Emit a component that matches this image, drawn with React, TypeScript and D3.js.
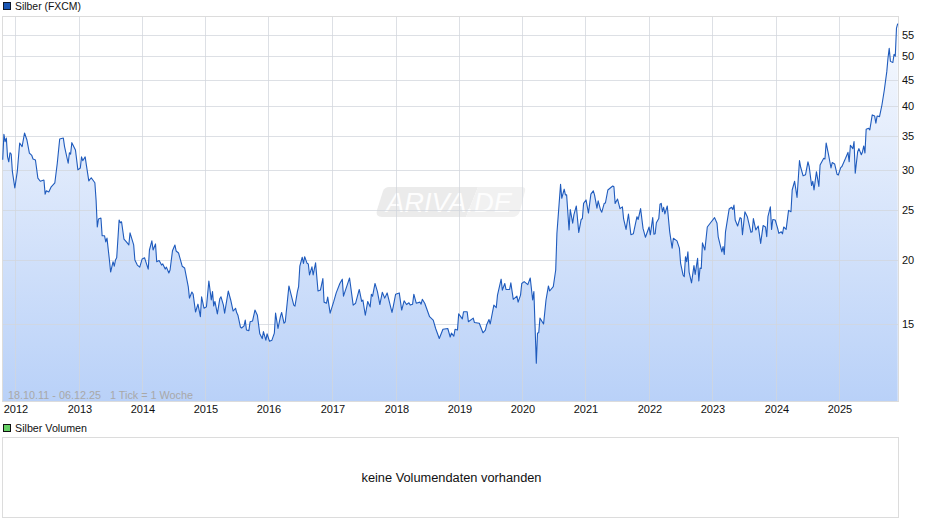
import React from "react";
import * as d3 from "d3";

const title = "Silber (FXCM)";
const volumeTitle = "Silber Volumen";
const volumeNote = "keine Volumendaten vorhanden";
const rangeNote = "18.10.11 - 06.12.25   1 Tick = 1 Woche";
const priceTicks = [15, 20, 25, 30, 35, 40, 45, 50, 55];
const yearTicks = [2012, 2013, 2014, 2015, 2016, 2017, 2018, 2019, 2020, 2021, 2022, 2023, 2024, 2025];
// week (since 18.10.2011) at which each year's tick sits
const yearTickWeeks = [10.6, 63.3, 115.3, 167.3, 219.2, 271.9, 324.7, 376.7, 428.7, 480.7, 533.4, 585.4, 638.1, 690];

// weeks since 18.10.2011 and the price read at that week
const weeks = [0,1,2,3,4,5,6,7,8,10,12,14,16,18,20,22,24,25,27,29,31,34,35,36,38,40,43,45,47,50,51,54,55,56,57,60,62,64,65,66,68,69,71,73,76,77,78,79,81,82,84,85,86,88,89,91,92,93,94,96,97,98,100,102,104,105,108,109,111,113,115,117,120,121,123,124,126,127,129,131,132,134,135,137,138,140,142,143,145,148,150,153,154,156,157,159,161,163,164,166,168,170,172,173,174,175,177,179,180,182,183,186,188,190,192,193,194,196,197,199,200,201,203,204,206,208,210,212,214,215,217,218,220,222,224,225,227,229,230,232,233,236,240,241,243,244,245,247,248,249,251,252,253,255,256,258,260,262,264,265,267,268,270,273,275,278,280,281,285,286,289,291,294,296,297,299,301,303,304,305,307,309,311,313,315,317,321,322,324,327,329,331,333,335,336,338,339,341,344,345,346,348,352,355,357,360,363,367,369,370,372,373,375,376,379,380,383,384,388,389,393,396,398,399,401,402,405,407,408,411,412,414,415,418,419,421,424,425,427,428,430,433,435,437,438,440,441,442,443,446,448,450,451,454,456,457,460,461,463,464,465,467,468,470,471,473,475,477,478,479,481,483,485,487,488,490,491,493,494,496,497,499,503,504,505,507,509,511,512,514,516,518,520,523,524,526,528,530,533,534,536,537,538,539,541,542,543,544,545,546,548,550,552,553,556,558,559,561,562,563,564,565,566,568,570,571,573,574,575,576,577,579,581,584,587,589,590,591,593,594,595,596,599,601,602,603,604,606,608,609,610,612,614,617,618,619,621,623,625,627,629,630,631,633,634,635,637,639,640,642,643,644,646,648,650,651,653,655,657,658,660,662,664,665,667,668,669,671,673,674,677,678,679,681,683,684,686,688,689,691,692,695,697,698,699,701,702,703,705,706,708,709,710,711,712,714,715,717,719,720,721,723,725,727,729,730,731,732,734,735,736,737,738];
const prices = [31.4,35.2,34.05,34.6,31.8,31.1,32.4,32.2,29.75,27.65,29.75,33.85,33.3,35.4,34.3,32.35,32,31.5,31.36,28.9,28.5,28.65,26.9,27.3,27.15,27.8,28.3,30.9,34.45,34.6,33.3,30.9,32.4,32.2,33.9,32.8,30,30.25,31.8,31.26,31.8,30.65,28.55,28.95,28.3,26.2,23.2,24.05,24.15,22.3,22.3,21.7,22.07,20,18.95,19.85,19.45,20,20.2,23.94,23.65,23.75,21.97,21.7,21.4,22.6,21.4,20,19.55,19.37,20.1,20.2,19.2,20.92,21.8,20.92,21.5,19.85,19.95,19.55,19.65,19.2,19.37,18.87,19.12,20.85,21.4,20.83,20.64,19.45,19.3,17.75,16.85,17.32,17.17,15.83,16.4,15.5,16.95,16.1,16.2,18.2,16.71,17.35,16.27,16.6,15.7,16.8,16.95,16.33,15.75,17.4,16.71,15.9,16.1,15.77,15.6,14.8,14.73,14.87,15.27,14.6,14.56,15.15,15.2,15.97,15.6,14.35,14.05,14.5,13.95,14.35,13.88,13.95,14.4,15.75,14.7,15.5,15.8,15.05,15.15,17.8,16.33,16.25,17.35,17.75,19.45,20.25,19.7,20.3,19.7,19.65,18.7,19.4,18.7,19.75,17.4,17.47,18.4,16.55,16.47,16.93,15.75,16.6,17.25,18,18.35,17,18.15,18.45,16.33,16.47,17.52,16.6,16.71,15.6,16.6,16.2,17.15,17,18,17.35,16.37,17.3,16.85,17.25,15.8,16.2,17.15,17.25,15.97,16.65,16.37,16.5,16.33,16.4,17.15,16.47,16.55,16.4,16.76,16.47,15.5,15.27,14.7,14.05,14.65,14.7,14.15,14.4,14.2,14.65,14.6,15.7,15.35,15.85,15.85,15.15,15.4,15.1,15.05,14.42,14.6,14.93,15.3,15,16.33,16.15,17.08,18.35,17.47,18,17.52,17.52,18.05,16.76,17,16.55,17.08,18,18.15,17.9,18.45,16.71,17.35,12.58,14.4,14.42,15.4,15,16.71,17.8,17.4,17.75,19.12,22.55,28.1,26.4,27.5,26.8,26.8,22.89,25.1,23.6,24.5,25.5,22.65,24,24.1,25.8,26.2,24.7,26.9,27.3,26.8,25.25,26.1,25.04,24.8,25.8,25.85,27.4,27.9,27.8,25.8,26.3,25.2,25.4,24.05,22.95,24.6,22.4,22.5,24.3,24,25.2,23.05,22.15,23.2,22.4,24.2,22.45,22.5,23.65,24.1,25.7,25.8,24.85,25.35,24.6,25.5,22.7,21.1,22.05,21.8,21.1,19.7,18.7,18.55,20.3,19.85,20.75,18.95,18.05,19.5,18.75,20.15,18.2,19.3,19.25,21.6,20.92,23.2,23.7,24.2,23.6,22.2,21.7,20.75,21.25,20.5,22.7,25.15,25.35,25.1,25.6,23.94,23.3,24.2,24.1,22.4,24.85,24.3,22.65,22.7,24.1,22.89,23.3,21.55,23.35,23.2,22.2,24.3,25.4,22.95,24,23.94,23.05,22.55,22.7,22.5,23.2,22.95,25,24.85,27.4,28.5,26.5,31.26,30.35,29.2,29.35,31.1,30.45,27.95,28.5,27.4,29.75,27.85,30.65,31.6,31.5,33.85,32.1,30.25,31,30.8,29.4,29.3,30.3,30.45,31.6,32.45,31.1,33.5,33,34.05,29.55,32.55,33,32.1,32.55,33.4,32.35,36,36.15,35.9,38.4,38.2,37,38.2,38.1,40.15,43,46.65,49.6,51.8,48.85,48.6,50.45,50,56.75,57.9];

const W = 940, H = 526;
const PLOT = { left: 3, right: 898, top: 16, bottom: 401 };
const FONT = "'Liberation Sans', Arial, sans-serif";

export default function App() {
  const x = d3.scaleLinear().domain([0, 738]).range([PLOT.left - 0.3, PLOT.right - 0.3]);
  // log scale: 15 at y=324, 55 at y=35
  const y = d3.scaleLog().domain([15, 55]).range([324, 35]);
  const pts: [number, number][] = weeks.map((w, i) => [x(w), prices[i]]);
  const line = d3.line<[number, number]>().x(d => d[0]).y(d => y(d[1]));
  const area = d3.area<[number, number]>().x(d => d[0]).y0(PLOT.bottom).y1(d => y(d[1]));
  const yearX = (i: number) => Math.floor(x(yearTickWeeks[i])) + 0.5;

  return (
    <svg width={W} height={H} viewBox={`0 0 ${W} ${H}`}
      style={{ position: "absolute", left: 0, top: 0, background: "#fff" }} fontFamily={FONT}>
      <defs>
        <linearGradient id="fillGrad" gradientUnits="userSpaceOnUse" x1="0" x2="0" y1={PLOT.top} y2={PLOT.bottom}>
          <stop offset="0" stopColor="#f8fafe" />
          <stop offset="1" stopColor="#b9d1f8" />
        </linearGradient>
      </defs>

      <rect x={3.5} y={2.5} width={7} height={7} fill="#1a56b4" stroke="#101828" strokeWidth={1} />
      <text x={15} y={9.5} fontSize={10.5} fill="#111" textLength={66} lengthAdjust="spacingAndGlyphs">{title}</text>

      <path d="M389 187 Q385 187 383 191 L377 210 Q375 217 382 217 L466 217 L478 187 Z" fill="#ebebeb" />
      <path d="M478 187 L522 187 Q526 187 525 191 L520 211 Q518 217 512 217 L466 217 Z" fill="#f1f1f1" />
      <text x={449} y={212} fontSize={27} fontStyle="italic" textAnchor="middle" fill="#fdfdfd" textLength={126} lengthAdjust="spacingAndGlyphs">ARIVA.DE</text>

      <path d={area(pts) ?? ""} fill="url(#fillGrad)" />

      <g stroke="#d2d6dc" strokeOpacity={0.75} strokeWidth={1} shapeRendering="crispEdges">
        {priceTicks.map(t => (
          <line key={t} x1={PLOT.left - 1} x2={PLOT.right} y1={Math.round(y(t)) + 0.5} y2={Math.round(y(t)) + 0.5} />
        ))}
        {yearTicks.map((yr, i) => (
          <line key={yr} x1={yearX(i)} x2={yearX(i)} y1={PLOT.top} y2={PLOT.bottom} />
        ))}
      </g>
      <rect x={2.5} y={16.5} width={896} height={385} fill="none" stroke="#dcdcdc" strokeWidth={1} shapeRendering="crispEdges" />

      <path d={line(pts) ?? ""} fill="none" stroke="#1f5bbd" strokeWidth={1.1} strokeLinejoin="round" />

      <text x={8} y={399} fontSize={11} fill="#a8a8a8" xmlSpace="preserve" textLength={185} lengthAdjust="spacingAndGlyphs">{rangeNote}</text>

      {priceTicks.map(t => (
        <text key={t} x={902} y={y(t) + 4} fontSize={11} fill="#111">{t}</text>
      ))}
      {yearTicks.map((yr, i) => (
        <text key={yr} x={yearX(i) + 0.5} y={413} fontSize={11} textAnchor="middle" fill="#111">{yr}</text>
      ))}

      <rect x={3.5} y={424.5} width={7} height={7} fill="#66d066" stroke="#101010" strokeWidth={1} />
      <text x={15} y={432} fontSize={10.5} fill="#111" textLength={72} lengthAdjust="spacingAndGlyphs">{volumeTitle}</text>
      <rect x={2.5} y={437.5} width={896} height={80} fill="#fff" stroke="#dcdcdc" strokeWidth={1} shapeRendering="crispEdges" />
      <text x={451.5} y={482} fontSize={12.3} textAnchor="middle" fill="#111" textLength={180} lengthAdjust="spacingAndGlyphs">{volumeNote}</text>
    </svg>
  );
}
